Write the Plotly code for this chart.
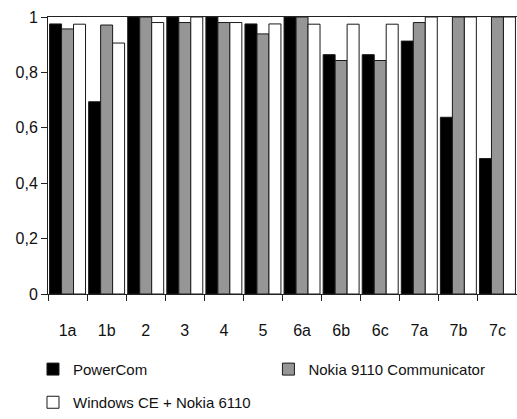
import plotly.graph_objects as go

categories = ["1a", "1b", "2", "3", "4", "5", "6a", "6b", "6c", "7a", "7b", "7c"]
powercom = [0.975, 0.694, 1.0, 1.0, 1.0, 0.975, 1.0, 0.864, 0.864, 0.913, 0.638, 0.489]
nokia9110 = [0.957, 0.971, 1.0, 0.98, 0.98, 0.939, 1.0, 0.843, 0.843, 0.98, 1.0, 1.0]
wince = [0.974, 0.906, 0.98, 1.0, 0.98, 0.975, 0.974, 0.974, 0.974, 1.0, 1.0, 1.0]

series_names = ["PowerCom", "Nokia 9110 Communicator", "Windows CE + Nokia 6110"]
colors = ["#000000", "#969696", "#ffffff"]
legend_ids = ["legend", "legend3", "legend2"]

fig = go.Figure()
for name, vals, col, lg in zip(series_names, [powercom, nokia9110, wince], colors, legend_ids):
    fig.add_trace(go.Bar(
        x=categories, y=vals, name=name,
        marker=dict(color=col, line=dict(color="#1a1a1a", width=1)),
        legend=lg, showlegend=True,
    ))

font = "Liberation Sans, Arial, sans-serif"
leg_common = dict(orientation="h", xanchor="left", yanchor="middle",
                  font=dict(size=15, color="#111"), itemwidth=30,
                  bgcolor="rgba(0,0,0,0)", visible=True)
fig.update_layout(
    width=517, height=419,
    showlegend=True,
    margin=dict(l=48, r=0, t=17, b=122),
    paper_bgcolor="white", plot_bgcolor="white",
    barmode="group", bargap=0.08, bargroupgap=0,
    separators=",.",
    font=dict(family=font, size=16, color="#111"),
    xaxis=dict(
        showline=True, linecolor="#222", linewidth=1, mirror=True,
        ticks="outside", tickson="boundaries", ticklen=6, tickcolor="#222",
        showgrid=False, ticklabelstandoff=22,
        tickfont=dict(size=16),
    ),
    yaxis=dict(
        range=[0, 1], showline=True, linecolor="#222", linewidth=1,
        ticks="outside", ticklen=6, tickcolor="#222",
        showgrid=False, zeroline=False,
        tickvals=[0, 0.2, 0.4, 0.6, 0.8, 1], tickfont=dict(size=16),
    ),
    legend=dict(x=-0.032, y=-0.272, **leg_common),
    legend3=dict(x=0.47, y=-0.272, **leg_common),
    legend2=dict(x=-0.032, y=-0.394, **leg_common),
)

fig.write_html("out.html", config={"displayModeBar": False},
               post_script="document.body.style.margin='0';")
